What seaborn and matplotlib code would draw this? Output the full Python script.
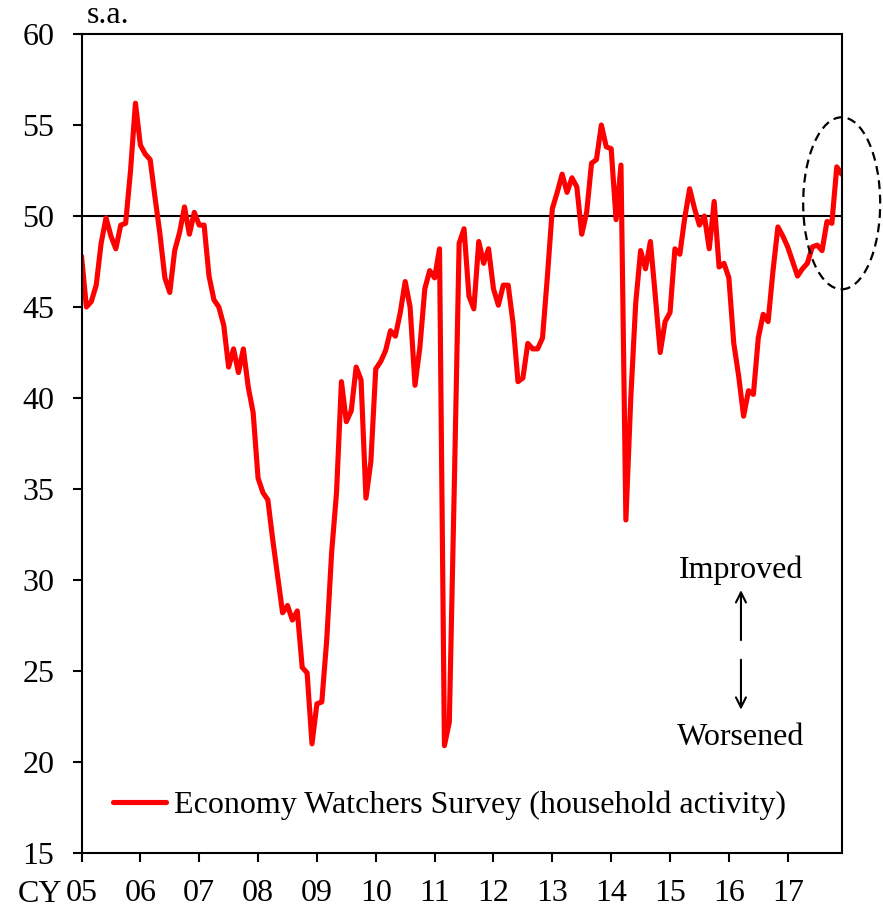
import numpy as np
import pandas as pd
import matplotlib
matplotlib.use("Agg")
import matplotlib.pyplot as plt
from matplotlib.patches import Ellipse
import seaborn as sns

# Economy Watchers Survey (household activity), s.a., monthly Jan 2005 - Dec 2017
ews_household = [
    47.8, 45.0, 45.3, 46.2, 48.5, 49.9, 48.9, 48.2, 49.5, 49.6, 52.5, 56.2,   # 05
    53.9, 53.4, 53.1, 51.0, 49.0, 46.6, 45.8, 48.1, 49.1, 50.5, 49.0, 50.2,   # 06
    49.5, 49.5, 46.7, 45.4, 45.0, 44.0, 41.7, 42.7, 41.4, 42.7, 40.6, 39.2,   # 07
    35.6, 34.8, 34.4, 32.2, 30.2, 28.2, 28.6, 27.8, 28.3, 25.2, 24.9, 21.0,   # 08
    23.2, 23.3, 26.7, 31.5, 34.8, 40.9, 38.7, 39.3, 41.7, 41.0, 34.5, 36.5,   # 09
    41.6, 42.0, 42.6, 43.7, 43.4, 44.7, 46.4, 45.0, 40.7, 42.8, 46.0, 47.0,   # 10
    46.6, 48.2, 20.9, 22.2, 35.0, 48.5, 49.3, 45.6, 44.9, 48.6, 47.4, 48.2,   # 11
    46.0, 45.1, 46.2, 46.2, 44.1, 40.9, 41.1, 43.0, 42.7, 42.7, 43.3, 46.7,   # 12
    50.4, 51.3, 52.3, 51.3, 52.1, 51.6, 49.0, 50.2, 52.9, 53.1, 55.0, 53.8,   # 13
    53.7, 49.8, 52.8, 33.3, 40.0, 45.2, 48.1, 47.1, 48.6, 45.6, 42.5, 44.2,   # 14
    44.7, 48.2, 47.9, 49.9, 51.5, 50.4, 49.5, 50.0, 48.2, 50.8, 47.2, 47.4,   # 15
    46.6, 43.0, 41.2, 39.0, 40.4, 40.2, 43.3, 44.6, 44.2, 47.0, 49.4, 48.9,   # 16
    48.3, 47.5, 46.7, 47.1, 47.4, 48.3, 48.4, 48.1, 49.7, 49.6, 52.7, 52.3,   # 17
]
year_labels = ["05", "06", "07", "08", "09", "10", "11", "12", "13", "14", "15", "16", "17"]
y_ticks = [15, 20, 25, 30, 35, 40, 45, 50, 55, 60]
series_name = "Economy Watchers Survey (household activity)"

df = pd.DataFrame({"month": np.arange(len(ews_household)), "di": ews_household})

sns.set_style("ticks")
plt.rcParams["font.family"] = ["Liberation Serif", "DejaVu Serif"]
plt.rcParams["font.size"] = 23
plt.rcParams["text.color"] = "black"
plt.rcParams["xtick.color"] = "black"
plt.rcParams["ytick.color"] = "black"
plt.rcParams["xtick.labelcolor"] = "black"
plt.rcParams["ytick.labelcolor"] = "black"

fig = plt.figure(figsize=(8.83, 9.07), dpi=100)
ax = fig.add_axes([0.0923, 0.0595, 0.8609, 0.903])

sns.lineplot(data=df, x="month", y="di", color="#ff0000", linewidth=3.7,
             label=series_name, ax=ax)
ax.axhline(50, color="black", linewidth=1.5, zorder=1)

ax.set_xlim(0, len(ews_household) - 1)
ax.set_ylim(15, 60)
ax.set_xticks(np.arange(len(year_labels)) * 12)
ax.set_xticklabels(year_labels)
ax.set_yticks(y_ticks)
ax.set_xlabel("")
ax.set_ylabel("")
ax.tick_params(axis="x", direction="out", length=6.5, width=1.5, pad=12, labelsize=23)
ax.tick_params(axis="y", direction="out", length=6.5, width=1.5, pad=13, labelsize=23)
for sp in ax.spines.values():
    sp.set_visible(True)
    sp.set_linewidth(1.5)
    sp.set_color("black")

ax.text(0.007, 1.0131, "s.a.", transform=ax.transAxes, ha="left", va="baseline", fontsize=23)
ax.text(-0.0835, -0.0595, "CY", transform=ax.transAxes, ha="left", va="baseline", fontsize=23)

# highlight of the latest months
ell = Ellipse((155, 50.7), 15.7, 9.45, fill=False, edgecolor="black", linewidth=1.6,
              linestyle=(0, (4, 2.5)), clip_on=False, zorder=5)
ax.add_patch(ell)

ax.text(0.8675, 0.3455, "Improved", transform=ax.transAxes, ha="center", va="center", fontsize=23)
ax.text(0.8675, 0.1416, "Worsened", transform=ax.transAxes, ha="center", va="center", fontsize=23)
ax.annotate("", xy=(0.8675, 0.321), xytext=(0.8675, 0.260), xycoords="axes fraction",
            arrowprops=dict(arrowstyle="->", lw=1.5, color="black", mutation_scale=18,
                            shrinkA=0, shrinkB=0))
ax.annotate("", xy=(0.8675, 0.175), xytext=(0.8675, 0.236), xycoords="axes fraction",
            arrowprops=dict(arrowstyle="->", lw=1.5, color="black", mutation_scale=18,
                            shrinkA=0, shrinkB=0))

ax.legend(loc="center left", bbox_to_anchor=(0.0414, 0.0586), frameon=False,
          borderpad=0, borderaxespad=0, handlelength=1.65, handletextpad=0.25, fontsize=23)

fig.savefig("out.png", dpi=100)
